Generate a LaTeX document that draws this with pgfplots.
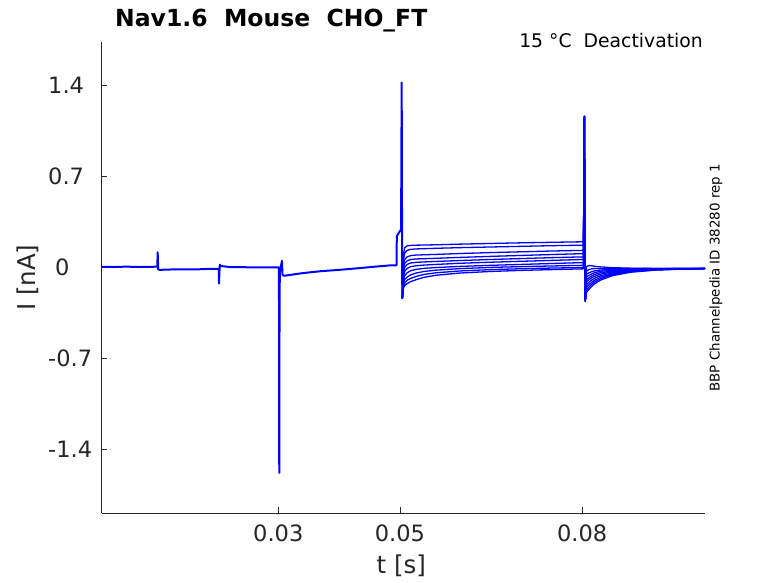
\documentclass[border=0pt]{standalone}
\usepackage{fontspec}
\setmainfont{DejaVu Sans}
\usepackage{pgfplots}
\usepackage{pgfplotstable}
\pgfplotsset{compat=1.18}
\definecolor{axc}{RGB}{38,38,38}
\definecolor{trc}{RGB}{0,0,255}
\newcommand{\tickfont}{\fontsize{22.5bp}{27bp}\selectfont}
\newcommand{\labfont}{\fontsize{24.5bp}{29bp}\selectfont}
\tikzset{tr/.style={draw=trc, line width=1.3pt, line join=round, mark=none}}

\pgfplotstableread{
t       A      B      C      D      E      F      G      H      I      J
0.0504  -0.24  -0.24  -0.24  -0.24  -0.24  -0.24  -0.24  -0.24  -0.24  -0.24
0.0506  0.10   0.06   0.02   -0.01  -0.04  -0.07  -0.10  -0.12  -0.14  -0.16
0.0508  0.15   0.11   0.06   0.03   0.00   -0.03  -0.065 -0.095 -0.12  -0.14
0.0512  0.165  0.130  0.080  0.050  0.022  -0.008 -0.042 -0.075 -0.10  -0.125
0.0518  0.168  0.138  0.090  0.060  0.033  0.005  -0.026 -0.058 -0.085 -0.11
0.0527  0.170  0.141  0.094  0.064  0.038  0.012  -0.016 -0.044 -0.070 -0.095
0.0540  0.171  0.143  0.096  0.066  0.041  0.017  -0.008 -0.032 -0.055 -0.077
0.0560  0.173  0.146  0.099  0.069  0.045  0.022  -0.002 -0.022 -0.042 -0.061
0.0600  0.178  0.151  0.106  0.076  0.052  0.031  0.007  -0.010 -0.028 -0.044
0.0650  0.183  0.156  0.113  0.084  0.060  0.039  0.015  -0.001 -0.018 -0.032
0.0700  0.188  0.161  0.119  0.091  0.067  0.046  0.022  0.005  -0.011 -0.024
0.0750  0.192  0.166  0.125  0.098  0.074  0.053  0.029  0.010  -0.006 -0.018
0.0802  0.196  0.170  0.130  0.105  0.080  0.060  0.036  0.015  -0.002 -0.012
0.08036 1.16   1.16   1.16   1.16   1.16   1.16   1.16   1.16   1.16   1.16
0.0805  -0.26  -0.26  -0.26  -0.26  -0.26  -0.26  -0.26  -0.26  -0.26  -0.26
0.0807  0.005  -0.03  -0.055 -0.075 -0.095 -0.115 -0.135 -0.155 -0.175 -0.195
0.0810  0.012  -0.02  -0.045 -0.065 -0.085 -0.10  -0.12  -0.14  -0.158 -0.176
0.0815  0.012  -0.012 -0.035 -0.052 -0.068 -0.083 -0.10  -0.118 -0.134 -0.15
0.0820  0.008  -0.01  -0.028 -0.042 -0.056 -0.07  -0.085 -0.10  -0.114 -0.128
0.0830  0.003  -0.01  -0.021 -0.031 -0.042 -0.053 -0.065 -0.077 -0.088 -0.099
0.0850  -0.003 -0.01  -0.015 -0.021 -0.028 -0.035 -0.043 -0.05  -0.057 -0.064
0.0880  -0.007 -0.01  -0.011 -0.014 -0.018 -0.022 -0.026 -0.03  -0.034 -0.038
0.0920  -0.009 -0.01  -0.01  -0.011 -0.012 -0.014 -0.016 -0.018 -0.02  -0.022
0.0960  -0.01  -0.01  -0.01  -0.01  -0.01  -0.011 -0.012 -0.013 -0.014 -0.015
0.1002  -0.01  -0.01  -0.01  -0.01  -0.01  -0.01  -0.01  -0.01  -0.01  -0.01
}\traces

\begin{document}
\begin{tikzpicture}
\begin{axis}[name=ax, scale only axis,
  width=603.3bp, height=470.5bp,
  xmin=0.00095, xmax=0.1002, ymin=-1.889, ymax=1.728,
  axis x line=bottom, axis y line=left,
  axis line style={-, draw=axc, line width=0.6bp},
  tick align=inside, major tick length=5.7bp,
  tick style={draw=axc, line width=0.6bp},
  xtick={0.03,0.05,0.08}, xticklabels={0.03,0.05,0.08},
  ytick={-1.4,-0.7,0,0.7,1.4},
  yticklabels={-1.4,-0.7,\hspace*{7bp}0,0.7,1.4},
  xticklabel style={font=\tickfont, text=axc, inner sep=0pt, anchor=north, yshift=-12bp},
  yticklabel style={font=\tickfont, text=axc, inner sep=0pt, anchor=west, xshift=-53.7bp},
  minor tick num=0, scaled ticks=false,
]
\addplot[tr, line width=2pt] coordinates {
(0.00095,0.004) (0.003,0.002) (0.005,0.005) (0.007,0.002) (0.0095,0.004) (0.0101,0.005)
(0.01016,0.115) (0.0102,0.05) (0.01025,-0.015) (0.0104,-0.02) (0.013,-0.016) (0.016,-0.017)
(0.019,-0.012) (0.0202,-0.012) (0.02025,-0.125) (0.0203,-0.06) (0.02038,0.02) (0.0205,0.01)
(0.022,0.002) (0.025,0.0) (0.028,0.0) (0.0301,0.0) (0.03012,-0.3) (0.03016,-1.58)
(0.0302,-0.5) (0.03025,-0.04) (0.0306,0.05) (0.0307,-0.06) (0.031,-0.065) (0.034,-0.045)
(0.037,-0.03) (0.040,-0.02) (0.043,-0.008) (0.046,0.005) (0.0485,0.015) (0.04945,0.015)
(0.0495,0.24) (0.0499,0.27) (0.0502,0.29) (0.0503,1.42) (0.05035,0.5) (0.0504,-0.24)
};
\addplot[tr] table[x=t,y=A] {\traces};
\addplot[tr] table[x=t,y=B] {\traces};
\addplot[tr] table[x=t,y=C] {\traces};
\addplot[tr] table[x=t,y=D] {\traces};
\addplot[tr] table[x=t,y=E] {\traces};
\addplot[tr] table[x=t,y=F] {\traces};
\addplot[tr] table[x=t,y=G] {\traces};
\addplot[tr] table[x=t,y=H] {\traces};
\addplot[tr] table[x=t,y=I] {\traces};
\addplot[tr] table[x=t,y=J] {\traces};
\end{axis}
\node[anchor=base west, font=\fontsize{23.5bp}{28bp}\selectfont\bfseries, text=black, inner sep=0pt]
  at ([shift={(13.3bp,15.5bp)}]ax.north west) {Nav1.6\ \ Mouse\ \ CHO\_FT};
\node[anchor=base east, font=\fontsize{18.8bp}{22bp}\selectfont, text=black, inner sep=0pt]
  at ([shift={(-2bp,-5.4bp)}]ax.north east) {15 °C\ \ Deactivation};
\node[rotate=90, font=\fontsize{13.4bp}{16bp}\selectfont, text=black, inner sep=0pt]
  at ([xshift=11bp]ax.east) {BBP Channelpedia ID 38280 rep 1};
\node[rotate=90, font=\labfont, text=axc, inner sep=0pt]
  at ([xshift=-74.2bp]ax.west) {I [nA]};
\node[font=\labfont, text=axc, inner sep=0pt]
  at ([shift={(-2bp,-53.2bp)}]ax.south) {t [s]};
\pgfresetboundingbox
\path[use as bounding box] ([shift={(-101.7bp,-70bp)}]ax.south west) rectangle ([shift={(73bp,42.5bp)}]ax.north east);
\end{tikzpicture}
\end{document}
